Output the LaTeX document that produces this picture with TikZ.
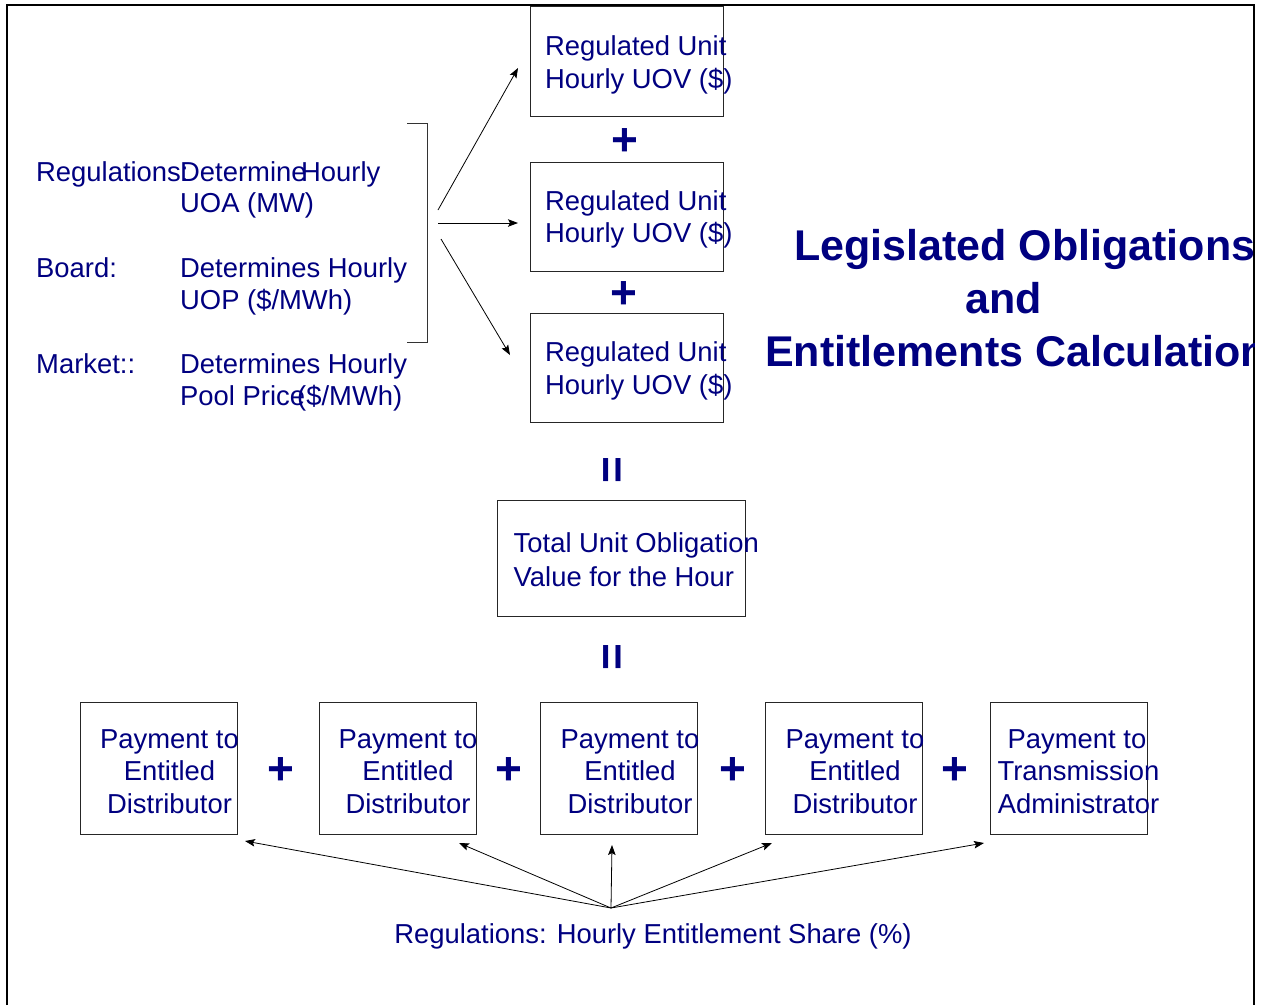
\documentclass[tikz,border=0pt]{standalone}
\usepackage{fontspec}
\setmainfont{Liberation Sans}
\usetikzlibrary{arrows.meta}
\definecolor{navy}{RGB}{0,0,128}
\begin{document}
\begin{tikzpicture}[x=1pt,y=-1pt,
  box/.style={draw=black!85, line width=0.9pt, inner sep=0pt, minimum width=157pt, minimum height=132pt},
  ubox/.style={draw=black!85, line width=0.9pt, inner sep=0pt, minimum width=193pt, minimum height=110pt},
  txt/.style={text=navy, font=\fontsize{27.4}{32}\selectfont, inner sep=0pt, anchor=base west},
  ctxt/.style={text=navy, font=\fontsize{27.4}{32}\selectfont, inner sep=0pt, anchor=base},
  ttl/.style={text=navy, font=\fontsize{43}{53}\selectfont\bfseries, inner sep=0pt, anchor=base west},
  op/.style={text=navy, font=\fontsize{46}{46}\selectfont\bfseries, inner sep=0pt},
  arr/.style={-{Stealth[length=10pt,width=7.5pt,inset=2pt]}, line width=0.8pt, black}]
\useasboundingbox[fill=white] (0,0) rectangle (1262,1005);

% frame
\draw[line width=2.5pt] (7,1005) -- (7,5) -- (1254,5) -- (1254,1005);

% left texts
\node[txt] (r1a) at (36,181) {Regulations:};
\node[txt] (r1b) at (180,181) {Determine};
\node[txt] (r1c) at (301,181) {Hourly};
\node[txt] (r1d) at (180,212) {UOA (MW)};
\node[txt] (r2a) at (36,277.5) {Board:};
\node[txt] (r2b) at (180,277.5) {Determines Hourly};
\node[txt] (r2c) at (180,309) {UOP (\$/MWh)};
\node[txt] (r3a) at (36,373) {Market::};
\node[txt] (r3b) at (180,373) {Determines Hourly};
\node[txt] (r3c) at (180,405) {Pool Price};
\node[txt] (r3d) at (297,405) {(\$/MWh)};

% bracket
\coordinate (bt) at (407,123);
\coordinate (bb) at (407,342);
\draw[line width=0.9pt, black!80] (bt) -- (427,123) -- (427,342) -- (bb);

% top boxes
\node[ubox] (u1) at (626.5,61) {};
\node[ubox, minimum height=109pt] (u2) at (626.5,216.5) {};
\node[ubox, minimum height=109pt] (u3) at (626.5,368) {};
\node[txt] (u1a) at (545,55) {Regulated Unit};
\node[txt] (u1b) at (545,88) {Hourly UOV (\$)};
\node[txt] (u2a) at (545,210.5) {Regulated Unit};
\node[txt] (u2b) at (545,242.5) {Hourly UOV (\$)};
\node[txt] (u3a) at (545,361.5) {Regulated Unit};
\node[txt] (u3b) at (545,394) {Hourly UOV (\$)};
\node[op] (p1) at (625,142) {+};
\node[op] (p2) at (624,295) {+};

% arrows from bracket
\coordinate (s1) at (438,210);
\coordinate (s2) at (438,223);
\coordinate (s3) at (441,239);
\coordinate (e1) at (518,68);
\coordinate (e2) at (518,223);
\coordinate (e3) at (510,355);
\draw[arr] (s1) -- (e1);
\draw[arr] (s2) -- (e2);
\draw[arr] (s3) -- (e3);

% equals
\node[op, rotate=90] (eq1) at (616,470) {=};
\node[op, rotate=90] (eq2) at (616,657) {=};

% total box
\node[draw=black!85, line width=0.9pt, inner sep=0pt, minimum width=248pt, minimum height=116pt] (tot) at (621,558) {};
\node[txt] (tota) at (513.5,552) {Total Unit Obligation};
\node[txt] (totb) at (513.5,586) {Value for the Hour};

% title
\begin{scope}
\clip (0,0) rectangle (1254,1005);
\node[ttl] (t1) at (794,260) {Legislated Obligations};
\node[ttl] (t2) at (965,313) {and};
\node[ttl] (t3) at (765,366) {Entitlements Calculation};
\end{scope}

% bottom boxes
\node[box] (bA) at (158.5,768) {};
\node[box] (bB) at (397.5,768) {};
\node[box] (bC) at (619,768) {};
\node[box] (bD) at (844,768) {};
\node[box] (bE) at (1068.5,768) {};
\foreach \n/\cx in {A/169.5, B/408, C/630, D/855} {
  \node[ctxt] (l1\n) at (\cx,748) {Payment to};
  \node[ctxt] (l2\n) at (\cx,780) {Entitled};
  \node[ctxt] (l3\n) at (\cx,813) {Distributor};
}
\node[ctxt] (l1E) at (1077,748) {Payment to};
\node[ctxt] (l2E) at (1078.5,780) {Transmission};
\node[ctxt] (l3E) at (1078.5,813) {Administrator};

\node[op] (q1) at (281,771) {+};
\node[op] (q2) at (509,771) {+};
\node[op] (q3) at (733,771) {+};
\node[op] (q4) at (955,771) {+};

% bottom arrows
\coordinate (src) at (611,908);
\coordinate (tA) at (245,841);
\coordinate (tB) at (459,843);
\coordinate (tC) at (612,845);
\coordinate (tD) at (772,843);
\coordinate (tE) at (984,843);
\foreach \t in {tA,tB,tC,tD,tE} \draw[arr] (src) -- (\t);

\node[ctxt] (share) at (653,943) {Regulations: Hourly Entitlement Share (\%)};
\end{tikzpicture}
\end{document}
